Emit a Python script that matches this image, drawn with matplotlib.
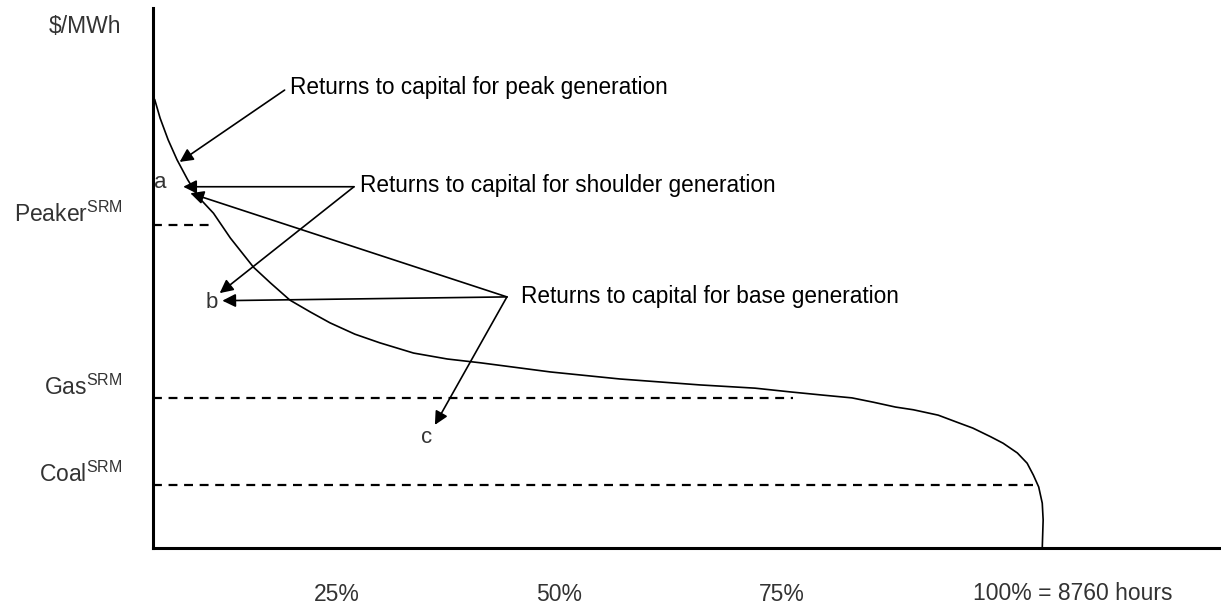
import numpy as np
import matplotlib.pyplot as plt

# price duration curve (x = % of hours, y = $/MWh index)
curve_x = [0.2, 0.8, 1.7, 2.7, 3.9, 5.1, 6.8, 8.7, 11.3, 13.2, 15.4, 17.7, 19.9,
           22.7, 25.5, 29.3, 33.1, 36.8, 44.7, 52.5, 61.5, 67.7, 71.7, 75.4, 78.6,
           81.0, 83.5, 85.5, 88.3, 90.4, 92.2, 94.2, 95.6, 97.2, 98.3, 99.0, 99.6,
           100.0, 100.1, 100.0]
curve_y = [83.0, 79.6, 75.6, 71.9, 68.2, 65.0, 62.0, 57.4, 52.0, 49.1, 45.9, 43.7, 41.7,
           39.6, 38.0, 36.1, 35.0, 34.3, 32.6, 31.3, 30.2, 29.6, 28.9, 28.3, 27.8,
           27.0, 26.1, 25.6, 24.6, 23.3, 22.2, 20.6, 19.4, 17.6, 15.7, 13.5, 11.3,
           8.3, 5.2, 0.0]

# short-run marginal cost levels and where each dashed line stops
srm_names = ["Peaker", "Gas", "Coal"]
srm_levels = [59.8, 27.8, 11.7]
srm_ends = [7.0, 72.0, 99.4]

tick_pos = [20.7, 45.7, 70.7]
tick_labels = ["25%", "50%", "75%"]

plt.rcParams["font.family"] = ["Liberation Sans", "DejaVu Sans"]
plt.rcParams["mathtext.fontset"] = "custom"
plt.rcParams["mathtext.rm"] = "Liberation Sans"

fig = plt.figure(figsize=(12.21, 6.08), dpi=100)
ax = fig.add_axes([153 / 1221, 60 / 608, 1068 / 1221, 540 / 608])
ax.set_xlim(0, 120.1)
ax.set_ylim(0, 100)

for s in ["top", "right"]:
    ax.spines[s].set_visible(False)
ax.spines["left"].set_linewidth(2.2)
ax.spines["bottom"].set_linewidth(2.2)
ax.set_yticks([])
ax.set_xticks(tick_pos)
ax.set_xticklabels(tick_labels, fontsize=16.5, color="#333333")
ax.tick_params(axis="x", length=0, pad=25)

ax.plot(curve_x, curve_y, color="black", lw=1.2)

for name, lev, end in zip(srm_names, srm_levels, srm_ends):
    ax.plot([0, end], [lev, lev], color="black", lw=1.6, ls=(0, (4, 3)))
    ax.text(-3.4, lev + 2.0, name + r"$^{\mathrm{SRM}}$", ha="right", va="center",
            fontsize=16.5, color="#333333")

ax.text(-3.6, 96.5, "$/MWh", ha="right", va="center", fontsize=16.5, color="#333333")
ax.text(92.2, -8.5, "100% = 8760 hours", ha="left", va="center", fontsize=16.5,
        color="#333333", clip_on=False)

ax.text(0.8, 67.6, "a", ha="center", va="center", fontsize=16, color="#333333")
ax.text(6.6, 45.4, "b", ha="center", va="center", fontsize=16, color="#333333")
ax.text(30.8, 20.4, "c", ha="center", va="center", fontsize=16, color="#333333")

arrow = dict(arrowstyle="-|>", color="black", lw=1.2, mutation_scale=20, shrinkA=0, shrinkB=0)

# peak
ax.text(15.4, 85.2, "Returns to capital for peak generation", fontsize=16.3, va="center")
ax.annotate("", xy=(3.0, 71.5), xytext=(14.8, 84.8), arrowprops=arrow)

# shoulder
ax.text(23.3, 67.2, "Returns to capital for shoulder generation", fontsize=16.3, va="center")
ax.annotate("", xy=(3.4, 66.9), xytext=(22.6, 66.9), arrowprops=arrow)
ax.annotate("", xy=(7.5, 47.2), xytext=(22.6, 66.9), arrowprops=arrow)

# base
ax.text(41.4, 46.5, "Returns to capital for base generation", fontsize=16.3, va="center")
ax.annotate("", xy=(4.2, 65.7), xytext=(39.8, 46.5), arrowprops=arrow)
ax.annotate("", xy=(7.8, 45.8), xytext=(39.8, 46.5), arrowprops=arrow)
ax.annotate("", xy=(31.7, 22.8), xytext=(39.8, 46.5), arrowprops=arrow)

fig.savefig("out.png", dpi=100)
